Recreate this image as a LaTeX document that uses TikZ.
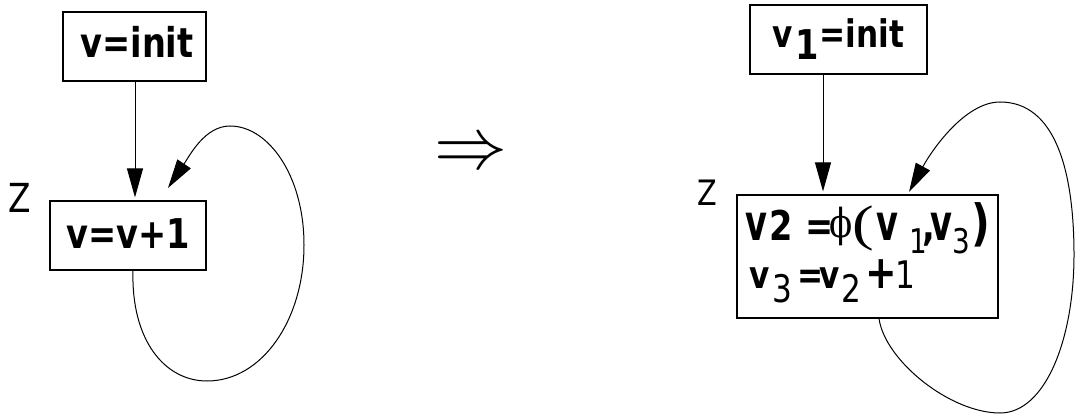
\documentclass[tikz,border=0pt]{standalone}
\usepackage{graphicx}
\usepackage{fontspec}
\setmainfont[FakeStretch=0.82]{DejaVu Sans}
\newfontfamily\phif[FakeStretch=0.85]{DejaVu Serif}
\newfontfamily\parf[FakeStretch=1.3]{Liberation Serif}
\newcommand{\gl}[2]{\makebox[#1pt][l]{#2}}
\newcommand{\bigv}{{\fontsize{50}{50}\selectfont\scalebox{0.82}[1]{v}}}
\usetikzlibrary{arrows.meta}
\begin{document}
\begin{tikzpicture}[x=1pt,y=1pt,
  box/.style={draw,line width=1.2pt,inner sep=0pt},
  txtb/.style={font=\fontsize{41}{44}\selectfont\bfseries},
  txt/.style={inner sep=0pt,anchor=base west,font=\fontsize{41}{44}\selectfont\bfseries},
  edge/.style={line width=1pt,-{Triangle[length=29pt,width=16pt]}},
  lbl/.style={inner sep=0pt},
]
\useasboundingbox (0,0) rectangle (1076,-417);
% left graph
\node[box,txtb,minimum width=143pt,minimum height=69pt,text height=30pt,text depth=7pt] (a1) at (134.5,-46.5) {\hspace{5pt}v=init};
\node[box,txtb,minimum width=156pt,minimum height=69pt,text height=30pt,text depth=5pt] (a2) at (128,-235.5) {v=v+1};
\node[lbl,font=\fontsize{40}{44}\selectfont] (za) at (20,-197.5) {Z};
\coordinate (a2in) at (168,-188);
\draw[edge,shorten >=3pt] ([xshift=0.5pt]a1.south) -- ([xshift=0.5pt]a1.south |- a2.north);
\draw[edge] ([xshift=5pt]a2.south) .. controls +(-2,-70) and (165,-381) .. (207,-381)
  .. controls (262,-381) and (304,-320) .. (304,-245)
  .. controls (304,-175) and (268,-126) .. (230,-126)
  .. controls (205,-126) and (190,-155) .. (a2in);
% implication
\node[inner sep=0pt] (impl) at (471,-155) {\scalebox{7.3}{$\Rightarrow$}};
% right graph
\node[box,minimum width=177pt,minimum height=69pt,text height=30pt,text depth=13pt,
  font=\fontsize{38}{44}\selectfont\bfseries] (r1) at (838.5,-39.5)
  {v\hspace{2pt}\raisebox{-12pt}{\fontsize{41}{44}\selectfont 1}\hspace{1pt}=init};
\node[box,minimum width=261pt,minimum height=123pt] (r2) at (867.5,-256.5) {};
\node[txt] (r2a) at (745.5,-240) {\gl{24}{\bigv}\gl{36}{2}\gl{24}{=}\gl{23}{\raisebox{3pt}{\fontsize{40}{44}\selectfont\mdseries\phif ϕ}}\gl{24}{\fontsize{50}{50}\selectfont\mdseries\parf (}\gl{33}{\bigv}\gl{13}{\raisebox{-13pt}{\fontsize{34}{40}\selectfont\mdseries 1}}\gl{8}{,}\gl{22}{\bigv}\gl{19}{\raisebox{-13pt}{\fontsize{34}{40}\selectfont\mdseries 3}}{\fontsize{50}{50}\selectfont )}};
\node[txt,font=\fontsize{38}{44}\selectfont\bfseries] (r2b) at (749,-288) {\gl{23}{v}\gl{25}{\raisebox{-14pt}{\mdseries 3}}\gl{22}{=}\gl{22}{v}\gl{24}{\raisebox{-14pt}{\mdseries 2}}\gl{30}{\fontsize{46}{46}\selectfont +}{\mdseries 1}};
\node[lbl,font=\fontsize{35}{40}\selectfont] (zb) at (707.5,-192.5) {Z};
\coordinate (r2in) at (909,-192);
\draw[edge,shorten >=3pt] ([xshift=-15.5pt]r1.south) -- ([xshift=-15.5pt]r1.south |- r2.north);
\draw[edge] ([xshift=11.5pt]r2.south) .. controls +(6,-42) and (950,-413) .. (1000,-413)
  .. controls (1045,-413) and (1074,-340) .. (1074,-255)
  .. controls (1074,-170) and (1055,-102) .. (1000,-102)
  .. controls (965,-102) and (932,-150) .. (r2in);
\end{tikzpicture}
\end{document}
